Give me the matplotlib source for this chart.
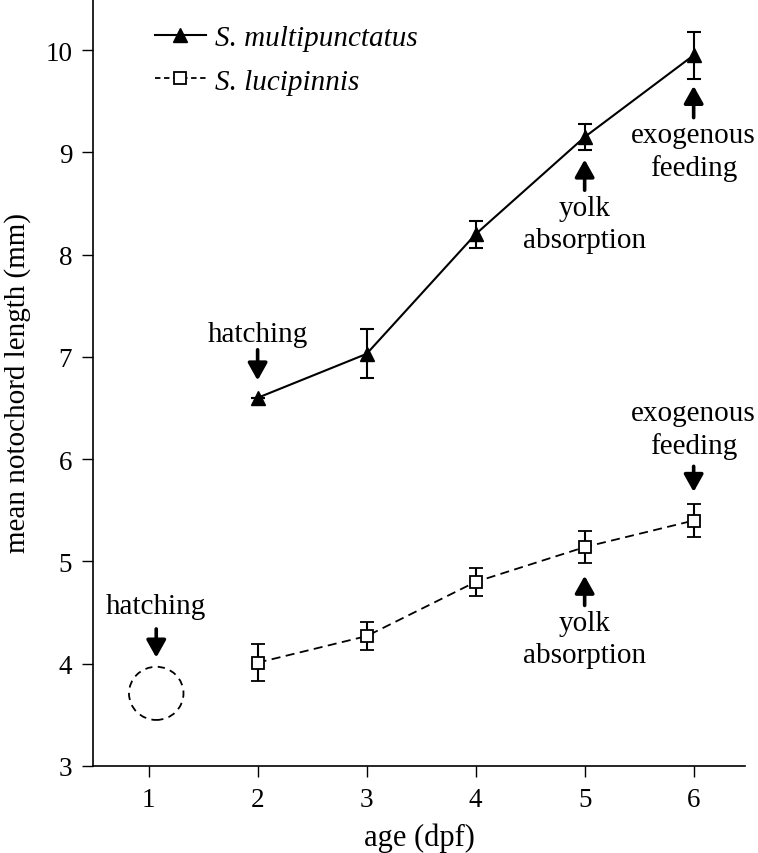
import matplotlib
matplotlib.use("Agg")
import matplotlib.pyplot as plt
from matplotlib.patches import Ellipse
from matplotlib.lines import Line2D

plt.rcParams['font.family'] = ['Liberation Serif', 'DejaVu Serif']

days = [2, 3, 4, 5, 6]
multi_mean = [6.60, 7.03, 8.20, 9.15, 9.95]
multi_err = [0.0, 0.24, 0.13, 0.13, 0.23]
luci_mean = [4.01, 4.27, 4.80, 5.14, 5.40]
luci_err = [0.18, 0.14, 0.14, 0.16, 0.16]
xticks = [1, 2, 3, 4, 5, 6]
yticks = [3, 4, 5, 6, 7, 8, 9, 10]

fig = plt.figure(figsize=(7.58, 8.54), dpi=100)
ax = fig.add_axes([0.1227, 0.1019, 0.860, 0.8981])

ax.errorbar(days, multi_mean, yerr=multi_err, color='black', lw=1.5,
            marker='^', ms=10, mfc='black', mec='black',
            capsize=5, elinewidth=1.5, capthick=1.5)
ax.errorbar(days, luci_mean, yerr=luci_err, color='black', lw=1.3,
            ls=(0, (5, 3)), marker='s', ms=8, mfc='white', mec='black', mew=1.3,
            capsize=5, elinewidth=1.5, capthick=1.5)

# dashed circle around hatching position of S. lucipinnis
ax.add_patch(Ellipse((1.07, 3.71), 0.5, 0.52, fill=False, ls=(0, (4, 3)),
                     lw=1.3, ec='black'))

arrow_kw = dict(arrowstyle='-|>,head_length=0.75,head_width=0.42', color='black',
                lw=2.6, mutation_scale=14, shrinkA=0, shrinkB=0)
fs = 21

def note(text, x, ytext, ytail, ytip):
    ax.annotate('', xy=(x, ytip), xytext=(x, ytail), arrowprops=arrow_kw)
    ax.text(x, ytext, text, ha='center', va='center', fontsize=fs, linespacing=1.3)

# S. multipunctatus annotations
note('hatching', 2, 7.22, 7.07, 6.77)
note('yolk\nabsorption', 5, 8.30, 8.63, 8.93)
note('exogenous\nfeeding', 6, 9.01, 9.34, 9.65)
# S. lucipinnis annotations
note('hatching', 1.07, 4.56, 4.34, 4.06)
note('exogenous\nfeeding', 6, 6.29, 5.93, 5.68)
note('yolk\nabsorption', 5, 4.24, 4.57, 4.86)

ax.set_xlim(0.49, 6.47)
ax.set_ylim(3, 10.5)
ax.set_xticks(xticks)
ax.set_yticks(yticks)
ax.tick_params(direction='out', length=8, width=1, labelsize=19.5, pad=7)
for s in ['top', 'right']:
    ax.spines[s].set_visible(False)
for s in ['left', 'bottom']:
    ax.spines[s].set_linewidth(1.2)

ax.set_xlabel('age (dpf)', fontsize=22, labelpad=8)
ax.set_ylabel('mean notochord length (mm)', fontsize=21, labelpad=10)

handles = [
    Line2D([], [], color='black', lw=1.5, marker='^', ms=10, mfc='black'),
    Line2D([], [], color='black', lw=1.3, ls=(0, (3, 2)), marker='s', ms=8,
           mfc='white', mew=1.3),
]
labels = ['S. multipunctatus', 'S. lucipinnis']
ax.legend(handles, labels, loc='upper left', bbox_to_anchor=(0.095, 0.967),
          frameon=False, prop={'style': 'italic', 'size': 21}, handlelength=1.75,
          handletextpad=0.3, labelspacing=0.6, borderaxespad=0, borderpad=0)

fig.savefig('out.png', dpi=100)
